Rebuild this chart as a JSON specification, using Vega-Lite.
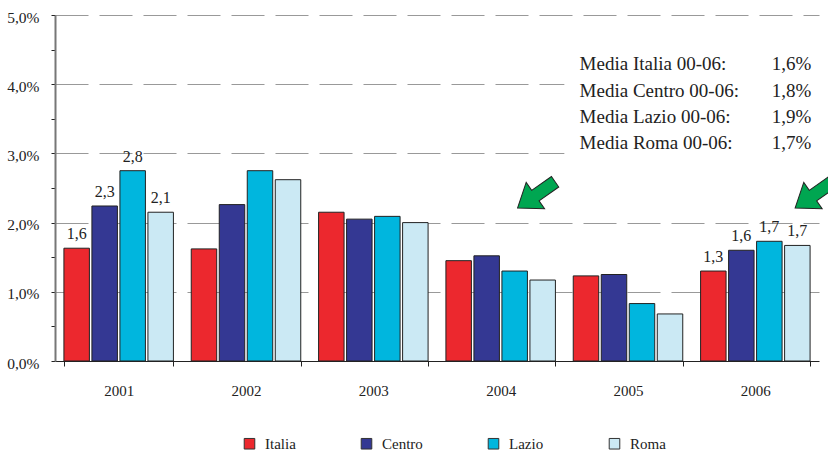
{
  "$schema": "https://vega.github.io/schema/vega-lite/v6.json",
  "width": 764,
  "height": 346,
  "autosize": {"type": "none"},
  "padding": {"left": 55, "top": 15, "right": 9, "bottom": 91},
  "background": "white",
  "config": {"view": {"stroke": null}, "font": "Liberation Serif"},
  "layer": [
    {
      "data": {
        "values": [
          {"year": "2001", "region": "Italia", "value": 1.63, "label": "1,6"},
          {"year": "2001", "region": "Centro", "value": 2.24, "label": "2,3"},
          {"year": "2001", "region": "Lazio", "value": 2.75, "label": "2,8"},
          {"year": "2001", "region": "Roma", "value": 2.15, "label": "2,1"},
          {"year": "2002", "region": "Italia", "value": 1.62, "label": null},
          {"year": "2002", "region": "Centro", "value": 2.26, "label": null},
          {"year": "2002", "region": "Lazio", "value": 2.75, "label": null},
          {"year": "2002", "region": "Roma", "value": 2.62, "label": null},
          {"year": "2003", "region": "Italia", "value": 2.15, "label": null},
          {"year": "2003", "region": "Centro", "value": 2.05, "label": null},
          {"year": "2003", "region": "Lazio", "value": 2.09, "label": null},
          {"year": "2003", "region": "Roma", "value": 2.0, "label": null},
          {"year": "2004", "region": "Italia", "value": 1.45, "label": null},
          {"year": "2004", "region": "Centro", "value": 1.52, "label": null},
          {"year": "2004", "region": "Lazio", "value": 1.3, "label": null},
          {"year": "2004", "region": "Roma", "value": 1.17, "label": null},
          {"year": "2005", "region": "Italia", "value": 1.23, "label": null},
          {"year": "2005", "region": "Centro", "value": 1.25, "label": null},
          {"year": "2005", "region": "Lazio", "value": 0.83, "label": null},
          {"year": "2005", "region": "Roma", "value": 0.68, "label": null},
          {"year": "2006", "region": "Italia", "value": 1.3, "label": "1,3"},
          {"year": "2006", "region": "Centro", "value": 1.6, "label": "1,6"},
          {"year": "2006", "region": "Lazio", "value": 1.73, "label": "1,7"},
          {"year": "2006", "region": "Roma", "value": 1.67, "label": "1,7"}
        ]
      },
      "encoding": {
        "x": {
          "field": "year",
          "type": "nominal",
          "scale": {"paddingInner": 0.14, "paddingOuter": 0.07},
          "axis": {
            "title": null,
            "labelAngle": 0,
            "tickBand": "extent",
            "domainColor": "#222",
            "domainWidth": 1.2,
            "tickColor": "#222",
            "tickSize": 5,
            "labelFont": "Liberation Serif",
            "labelFontSize": 15,
            "labelColor": "#222",
            "labelPadding": 17
          }
        },
        "xOffset": {
          "field": "region",
          "type": "nominal",
          "sort": ["Italia", "Centro", "Lazio", "Roma"],
          "scale": {"paddingInner": 0.09}
        },
        "y": {
          "field": "value",
          "type": "quantitative",
          "scale": {"domain": [0, 5], "nice": false},
          "axis": {
            "title": null,
            "values": [0, 0.5, 1, 1.5, 2, 2.5, 3, 3.5, 4, 4.5, 5],
            "labelExpr": "datum.value % 1 === 0 ? replace(format(datum.value, '.1f'), '.', ',') + '%' : ''",
            "labelFlush": false,
            "labelOverlap": false,
            "labelOffset": 2,
            "grid": true,
            "gridDash": [33, 11],
            "gridColor": "#999",
            "gridOpacity": {"condition": {"test": "datum.value % 1 !== 0 || datum.value === 0", "value": 0}, "value": 1},
            "domainColor": "#777",
            "domainWidth": 2,
            "tickColor": "#222",
            "tickSize": 4,
            "labelFont": "Liberation Serif",
            "labelFontSize": 15.5,
            "labelColor": "#222",
            "labelPadding": 12
          }
        },
        "color": {
          "field": "region",
          "type": "nominal",
          "sort": ["Italia", "Centro", "Lazio", "Roma"],
          "scale": {
            "domain": ["Italia", "Centro", "Lazio", "Roma"],
            "range": ["#EC282E", "#343893", "#00B6DE", "#CBE9F4"]
          },
          "legend": {
            "orient": "none",
            "legendX": 187,
            "legendY": 421,
            "direction": "horizontal",
            "columns": 4,
            "title": null,
            "symbolType": "square",
            "symbolSize": 112,
            "symbolStrokeColor": "#333",
            "symbolStrokeWidth": 1,
            "labelFont": "Liberation Serif",
            "labelFontSize": 15,
            "labelColor": "#222",
            "columnPadding": 63,
            "labelOffset": 8
          }
        }
      },
      "layer": [
        {"mark": {"type": "bar", "stroke": "#222", "strokeWidth": 1}},
        {
          "transform": [{"filter": "datum.label != null"}],
          "mark": {"type": "text", "baseline": "alphabetic", "dy": -9, "fontSize": 16, "font": "Liberation Serif"},
          "encoding": {"text": {"field": "label"}, "color": {"value": "#222"}}
        }
      ]
    },
    {
      "data": {"values": [{}]},
      "layer": [
        {
          "mark": {"type": "rect", "fill": "white", "clip": false},
          "encoding": {
            "x": {"datum": 4.0, "type": "quantitative", "scale": {"domain": [0, 6], "nice": false, "zero": false}, "axis": null},
            "x2": {"datum": 6.2},
            "y": {"datum": 2.9, "type": "quantitative", "scale": {"domain": [0, 5], "nice": false}, "axis": null},
            "y2": {"datum": 4.5}
          }
        },
        {
          "mark": {"type": "text", "align": "left", "baseline": "alphabetic", "fontSize": 19, "font": "Liberation Serif", "lineHeight": 26.3, "color": "#222"},
          "encoding": {
            "x": {"datum": 4.12, "type": "quantitative"},
            "y": {"datum": 4.2, "type": "quantitative"},
            "text": {"value": ["Media Italia 00-06:", "Media Centro 00-06:", "Media Lazio 00-06:", "Media Roma 00-06:"]}
          }
        },
        {
          "mark": {"type": "text", "align": "right", "baseline": "alphabetic", "fontSize": 19, "font": "Liberation Serif", "lineHeight": 26.3, "color": "#222"},
          "encoding": {
            "x": {"datum": 5.94, "type": "quantitative"},
            "y": {"datum": 4.2, "type": "quantitative"},
            "text": {"value": ["1,6%", "1,8%", "1,9%", "1,7%"]}
          }
        },
        {
          "mark": {"type": "point", "filled": true, "clip": false, "fill": "#00A651", "stroke": "#222", "strokeWidth": 1, "opacity": 1, "angle": 145, "size": 2100,
            "shape": "M -1 -0.28 L 0.05 -0.28 L 0.05 -0.7 L 1 0 L 0.05 0.7 L 0.05 0.28 L -1 0.28 Z"},
          "encoding": {
            "x": {"datum": 3.78, "type": "quantitative"},
            "y": {"datum": 2.4, "type": "quantitative"}
          }
        },
        {
          "mark": {"type": "point", "filled": true, "clip": false, "fill": "#00A651", "stroke": "#222", "strokeWidth": 1, "opacity": 1, "angle": 145, "size": 2100,
            "shape": "M -1 -0.28 L 0.05 -0.28 L 0.05 -0.7 L 1 0 L 0.05 0.7 L 0.05 0.28 L -1 0.28 Z"},
          "encoding": {
            "x": {"datum": 5.96, "type": "quantitative"},
            "y": {"datum": 2.4, "type": "quantitative"}
          }
        }
      ]
    }
  ],
  "resolve": {"scale": {"x": "independent", "y": "independent", "color": "independent"}}
}
